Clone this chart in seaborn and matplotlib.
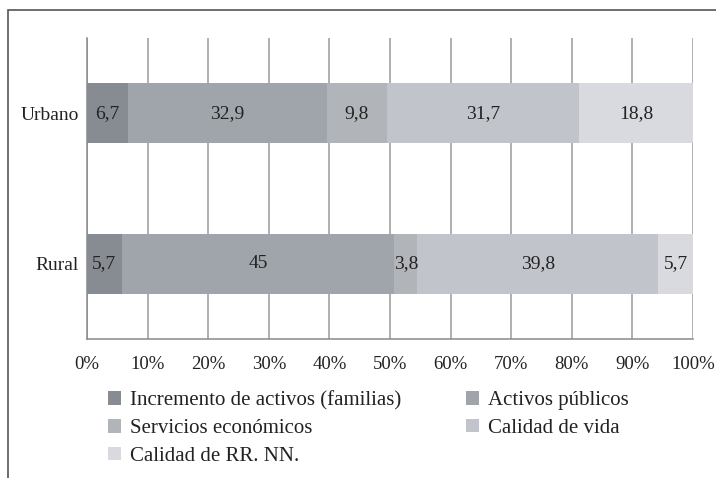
import numpy as np
import pandas as pd
import seaborn as sns
import matplotlib.pyplot as plt
from matplotlib.patches import Patch, Rectangle

# --- Data ---
zones = ["Urbano", "Rural"]
series = ["Incremento de activos (familias)", "Activos públicos", "Servicios económicos",
          "Calidad de vida", "Calidad de RR. NN."]
urbano = [6.7, 32.9, 9.8, 31.7, 18.8]
rural = [5.7, 45, 3.8, 39.8, 5.7]
colors = ["#878c92", "#a0a5ab", "#b1b5ba", "#c1c4ca", "#d8dadf"]
x_ticks = [0, 10, 20, 30, 40, 50, 60, 70, 80, 90, 100]

sns.set_style("white")
plt.rcParams["font.family"] = ["Liberation Serif", "DejaVu Serif"]

# 100% stacked -> normalise each row
vals = np.array([urbano, rural], dtype=float)
pct = vals / vals.sum(axis=1, keepdims=True) * 100
cum = pct.cumsum(axis=1)
left = cum - pct

fig = plt.figure(figsize=(7.16, 4.78), dpi=100)
ax = fig.add_axes([87 / 716, 1 - 339 / 478, (693 - 87) / 716, (339 - 38) / 478])

# grid behind bars
for t in x_ticks:
    ax.axvline(t, color="#9a9a9a", lw=1.1, zorder=0)

# draw stacks from the right end backwards so each layer covers the next
for i in range(len(series) - 1, -1, -1):
    df = pd.DataFrame({"zona": zones, "fin": cum[:, i]})
    sns.barplot(data=df, x="fin", y="zona", orient="h", color=colors[i],
                width=0.4, saturation=1, linewidth=0, ax=ax, zorder=2)

# value labels
for r, row in enumerate([urbano, rural]):
    for i, v in enumerate(row):
        lab = f"{v:g}".replace(".", ",")
        ax.text(left[r, i] + pct[r, i] / 2, r, lab, ha="center", va="center",
                fontsize=14, color="#222222", zorder=3)

ax.set_xlim(0, 100)
ax.set_ylim(1.5, -0.5)
ax.set_xticks(x_ticks)
ax.set_xticklabels([f"{t}%" for t in x_ticks], fontsize=13.5, color="#222222")
ax.set_yticks([0, 1])
ax.set_yticklabels(zones, fontsize=14, color="#222222")
ax.set_yticks([-0.5, 0.5, 1.5], minor=True)
ax.tick_params(axis="y", which="major", length=0, pad=6)
ax.tick_params(axis="y", which="minor", length=5, width=1.1, color="#8a8a8a", direction="out")
ax.tick_params(axis="x", length=5, width=1.1, color="#8a8a8a", direction="out", pad=7)
ax.set_xlabel("")
ax.set_ylabel("")
for s in ["top", "right"]:
    ax.spines[s].set_visible(False)
for s in ["left", "bottom"]:
    ax.spines[s].set_color("#8a8a8a")
    ax.spines[s].set_linewidth(1.1)

# outer frame (cut by the image edges)
fig.patches.append(Rectangle((8 / 716, -0.2), 1.5, 1.2 - 10 / 478, transform=fig.transFigure,
                             fill=False, edgecolor="#555555", lw=1.2))

# legend in two independent columns
handles = [Patch(facecolor=c, edgecolor="none") for c in colors]
leg_kw = dict(frameon=False, fontsize=15, handlelength=0.63, handleheight=0.63,
              handletextpad=0.42, labelspacing=0.41, borderpad=0, borderaxespad=0,
              loc="upper left")
order1 = [0, 2, 4]
order2 = [1, 3]
leg1 = fig.legend([handles[i] for i in order1], [series[i] for i in order1],
                  bbox_to_anchor=(108 / 716, 1 - 391 / 478), **leg_kw)
leg2 = fig.legend([handles[i] for i in order2], [series[i] for i in order2],
                  bbox_to_anchor=(466 / 716, 1 - 391 / 478), **leg_kw)
for leg in (leg1, leg2):
    for t in leg.get_texts():
        t.set_color("#222222")

fig.savefig("out.png", dpi=100)
